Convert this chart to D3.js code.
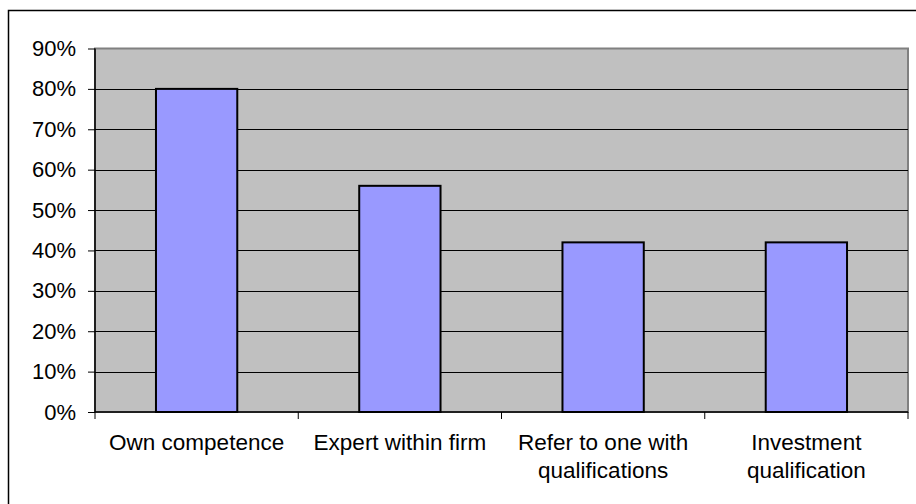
<!DOCTYPE html>
<html><head><meta charset="utf-8">
<script src="https://cdn.jsdelivr.net/npm/d3@7/dist/d3.min.js"></script>
<style>html,body{margin:0;padding:0;background:#fff;}svg{display:block;}</style>
</head><body>
<script>
const categories = [["Own competence"], ["Expert within firm"], ["Refer to one with", "qualifications"], ["Investment", "qualification"]];
const values = [0.80, 0.56, 0.42, 0.42];
const yTicks = [0, 0.1, 0.2, 0.3, 0.4, 0.5, 0.6, 0.7, 0.8, 0.9];

const W = 916, H = 504;
const svg = d3.select("body").append("svg").attr("width", W).attr("height", H);
svg.append("rect").attr("x", 0).attr("y", 0).attr("width", W).attr("height", H).attr("fill", "#fff");
// outer frame
svg.append("rect").attr("x", 8.5).attr("y", 10.5).attr("width", W + 20).attr("height", H + 20)
  .attr("fill", "none").attr("stroke", "#000").attr("stroke-width", 1.5);

const L = 95, R = 908, T = 48.5, B = 412;
const x = d3.scaleBand().domain(d3.range(categories.length)).range([L, R]).paddingInner(0).paddingOuter(0);
const y = d3.scaleLinear().domain([0, 0.9]).range([B, T]);

svg.append("rect").attr("x", L).attr("y", T).attr("width", R - L).attr("height", B - T)
  .attr("fill", "#C0C0C0").attr("stroke", "#808080").attr("stroke-width", 2);

// gridlines
svg.append("g").selectAll("line").data(yTicks.filter(d => d > 0 && d < 0.9)).join("line")
  .attr("x1", L).attr("x2", R).attr("y1", d => Math.round(y(d)) + 0.5).attr("y2", d => Math.round(y(d)) + 0.5)
  .attr("stroke", "#000").attr("stroke-width", 1);

// bars
const bw = x.bandwidth() * 0.4;
svg.append("g").selectAll("rect").data(values).join("rect")
  .attr("x", (d, i) => x(i) + (x.bandwidth() - bw) / 2)
  .attr("y", d => y(d))
  .attr("width", bw)
  .attr("height", d => B - y(d))
  .attr("fill", "#9999FF").attr("stroke", "#000").attr("stroke-width", 2);

// y axis
const yAxis = d3.axisLeft(y).tickValues(yTicks).tickFormat(d3.format(".0%")).tickSize(7).tickPadding(12);
const gy = svg.append("g").attr("transform", `translate(${L},0)`).call(yAxis);
gy.select(".domain").attr("stroke", "#000").attr("stroke-width", 1.5).attr("d", `M0,${T}V${B}`);
gy.selectAll(".tick line").attr("stroke", "#000");
gy.selectAll("text").attr("font-family", "Liberation Sans, Arial, sans-serif").attr("font-size", "22px").attr("fill", "#000");

// x axis baseline and ticks at boundaries
svg.append("line").attr("x1", L).attr("x2", R).attr("y1", B).attr("y2", B).attr("stroke", "#000").attr("stroke-width", 1.5);
const bounds = d3.range(categories.length + 1).map(i => i < categories.length ? x(i) : R);
svg.append("g").selectAll("line").data(bounds).join("line")
  .attr("x1", d => d).attr("x2", d => d).attr("y1", B).attr("y2", B + 7)
  .attr("stroke", "#000").attr("stroke-width", 1);

// x labels
const lab = svg.append("g").selectAll("text").data(categories).join("text")
  .attr("x", (d, i) => x(i) + x.bandwidth() / 2)
  .attr("y", 450)
  .attr("text-anchor", "middle")
  .attr("font-family", "Liberation Sans, Arial, sans-serif").attr("font-size", "22.5px").attr("fill", "#000");
lab.selectAll("tspan").data(d => d).join("tspan")
  .attr("x", function () { return this.parentNode.getAttribute("x"); })
  .attr("dy", (d, i) => i === 0 ? 0 : 27.5)
  .text(d => d);
</script>
</body></html>
